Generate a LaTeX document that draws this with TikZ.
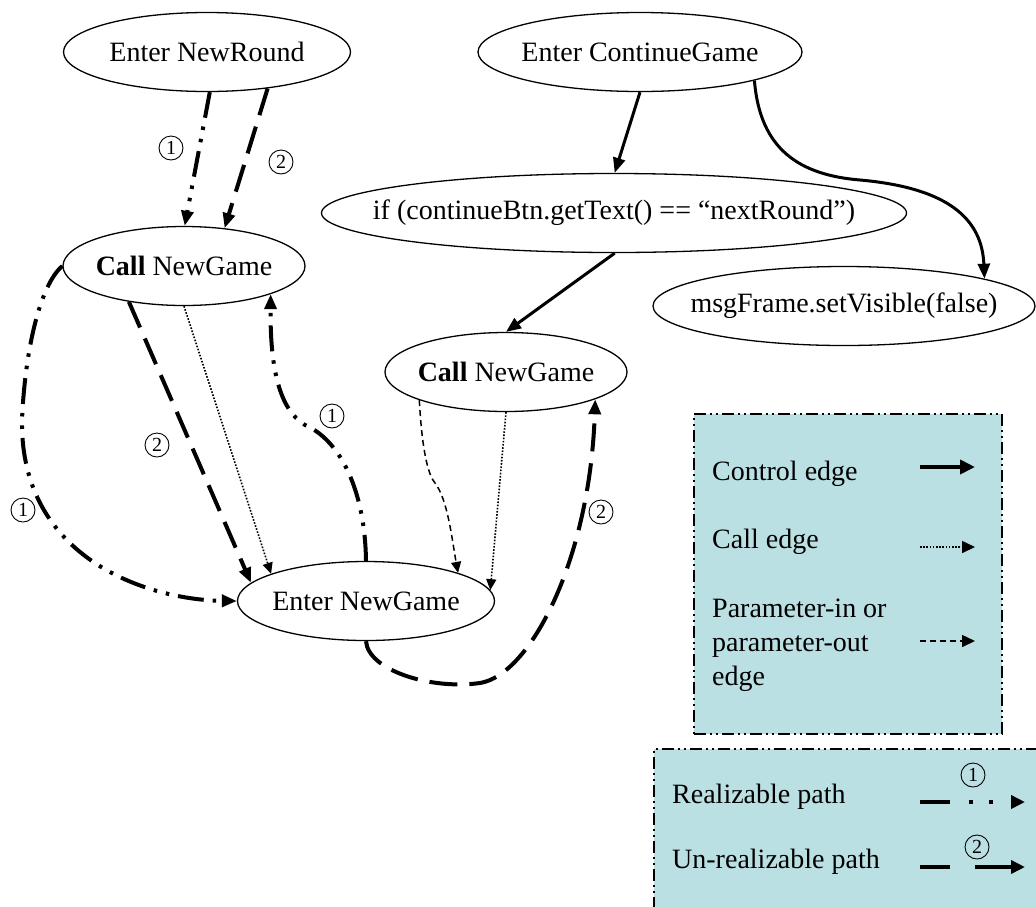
\documentclass[tikz,border=0pt]{standalone}
\usepackage{fontspec}
\setmainfont{Liberation Serif}
\usetikzlibrary{shapes.geometric,arrows.meta}
\definecolor{legendfill}{RGB}{187,224,228}
\begin{document}
\begin{tikzpicture}[x=1pt,y=1pt,
  txt/.style={font=\fontsize{28}{34}\selectfont},
  stmt/.style={ellipse,draw,line width=1.3pt,inner sep=0pt,minimum height=79pt,txt},
  bigtip/.style={-{Triangle[length=15pt,width=12pt]}},
  smalltip/.style={-{Triangle[length=11pt,width=10pt]}},
  ctrl/.style={line width=3pt,bigtip},
  realiz/.style={line width=4pt,dash pattern=on 26pt off 9pt on 3.5pt off 9pt on 3.5pt off 9pt,bigtip},
  unreal/.style={line width=4pt,dash pattern=on 28pt off 12pt,bigtip},
  calledge/.style={line width=1.6pt,dash pattern=on 1.6pt off 1.6pt,smalltip},
  paramedge/.style={line width=1.5pt,dash pattern=on 6pt off 4pt,smalltip},
  num/.style={circle,draw,line width=0.9pt,inner sep=0pt,minimum size=24pt,font=\fontsize{20}{20}\selectfont},
  legendbox/.style={draw,fill=legendfill,line width=1.5pt,
    dash pattern=on 12pt off 4pt on 2pt off 4pt on 2pt off 4pt,inner sep=0pt,anchor=north west},
  legtext/.style={txt,inner sep=0pt,anchor=base west,align=left}
]
\useasboundingbox (0,0) rectangle (1036,-906);
\clip (0,0) rectangle (1036,-906);

% statement nodes
\node[stmt,minimum width=287pt] (nr)  at (207,-52)  {\makebox[0pt]{Enter NewRound}};
\node[stmt,minimum width=324pt] (cg)  at (640,-52)  {\makebox[0pt]{Enter ContinueGame}};
\node[stmt,minimum width=585pt] (ifn) at (614,-213) {\makebox[0pt]{if (continueBtn.getText() == “nextRound”)}};
\node[stmt,minimum width=382pt] (msg) at (844,-306) {\makebox[0pt]{msgFrame.setVisible(false)}};
\node[stmt,minimum width=242pt] (cl)  at (184,-266) {\makebox[0pt]{\textbf{Call} NewGame}};
\node[stmt,minimum width=242pt] (cm)  at (506,-372) {\makebox[0pt]{\textbf{Call} NewGame}};
\node[stmt,minimum width=257pt] (eng) at (366,-601) {\makebox[0pt]{Enter NewGame}};

% control edges
\draw[ctrl] (cg.south) -- (ifn.89);
\draw[ctrl] (ifn.-89) -- (cm.north);
\draw[ctrl] (cg.-14) .. controls (760,-150) and (800,-175) .. (860,-180)
            .. controls (950,-188) and (982,-220) .. (msg.11);

% realizable paths
\draw[realiz] (nr.-86) -- (cl.89);
\draw[realiz] (cl.west) .. controls (40,-285) and (25,-350) .. (22,-420)
              .. controls (20,-560) and (150,-600) .. (eng.west);
\draw[realiz] (eng.north) .. controls (365,-490) and (340,-440) .. (305,-425)
              .. controls (280,-410) and (270,-370) .. (cl.-18);

% un-realizable paths
\draw[unreal] (nr.-31) -- (cl.43);
\draw[unreal] (cl.-147) -- (eng.171);
\draw[unreal] (eng.south) .. controls (368,-670) and (430,-690) .. (480,-683)
              .. controls (530,-675) and (590,-560) .. (cm.-17.5);

% call edges
\draw[calledge] (cl.south) -- (eng.164);
\draw[calledge] (cm.south) -- (eng.5);

% parameter edge
\draw[paramedge] (cm.-162) .. controls (422,-450) and (428,-475) .. (435,-483)
                 .. controls (448,-500) and (452,-540) .. (eng.17.5);

% path numbers
\node[num] (p1a) at (171,-148) {1};
\node[num] (p2a) at (281,-162) {2};
\node[num] (p1b) at (23,-510)  {1};
\node[num] (p2b) at (157,-445) {2};
\node[num] (p1c) at (332,-416) {1};
\node[num] (p2c) at (601,-512) {2};

% legend: edge kinds
\node[legendbox,minimum width=308pt,minimum height=320pt] (leg1) at (693,-413) {};
\node[legtext] (t1) at (712,-480) {Control edge};
\node[legtext] (t2) at (712,-548) {Call edge};
\node[legtext] (t3) at (712,-685) {Parameter-in or\\parameter-out\\edge};
\coordinate (l1a) at (920,-467); \coordinate (l1b) at (975,-467);
\coordinate (l2a) at (920,-547); \coordinate (l2b) at (975,-547);
\coordinate (l3a) at (920,-641); \coordinate (l3b) at (975,-641);
\draw[line width=4.5pt,-{Triangle[length=15pt,width=14pt]}] (l1a) -- (l1b);
\draw[calledge,-{Triangle[length=13pt,width=12pt]}] (l2a) -- (l2b);
\draw[paramedge,-{Triangle[length=13pt,width=12pt]}] (l3a) -- (l3b);

% legend: path kinds
\node[legendbox,minimum width=400pt,minimum height=200pt] (leg2) at (653,-748) {};
\node[legtext] (t4) at (672,-803) {Realizable path};
\node[legtext] (t5) at (672,-868) {Un-realizable path};
\coordinate (l4a) at (920,-802); \coordinate (l4b) at (1025,-802);
\coordinate (l5a) at (920,-867); \coordinate (l5b) at (1025,-867);
\draw[line width=4pt,dash pattern=on 30pt off 19pt on 4pt off 16pt on 4pt off 40pt,
      -{Triangle[length=14pt,width=13pt]}] (l4a) -- (l4b);
\draw[line width=4pt,dash pattern=on 30pt off 25pt on 60pt off 1pt,
      -{Triangle[length=14pt,width=13pt]}] (l5a) -- (l5b);
\node[num] (p1d) at (973,-775) {1};
\node[num] (p2d) at (977,-847) {2};
\end{tikzpicture}
\end{document}
